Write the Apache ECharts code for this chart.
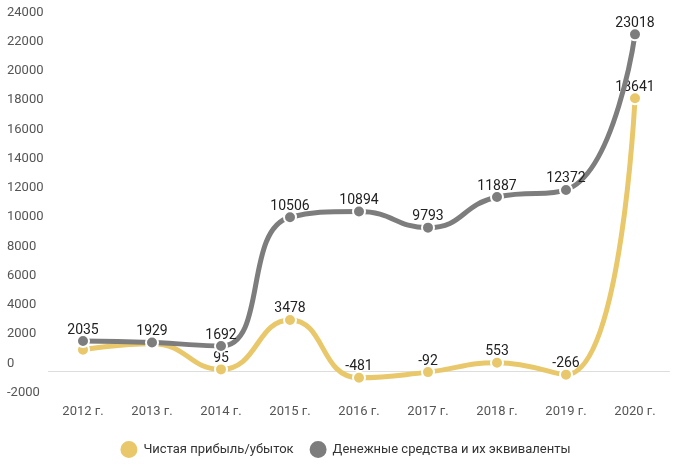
<!DOCTYPE html>
<html><head><meta charset="utf-8">
<script src="https://cdn.jsdelivr.net/npm/echarts@6/dist/echarts.min.js"></script>
<style>html,body{margin:0;padding:0;background:#fff}#c{width:689px;height:465px}</style>
</head><body><div id="c"></div>
<script>
const categories = ['2012 г.','2013 г.','2014 г.','2015 г.','2016 г.','2017 г.','2018 г.','2019 г.','2020 г.'];
const profit = [1436, 1850, 95, 3478, -481, -92, 553, -266, 18641];
const profitLabelShown = [false, false, true, true, true, true, true, true, true];
const cash = [2035, 1929, 1692, 10506, 10894, 9793, 11887, 12372, 23018];
const seriesNames = ['Чистая прибыль/убыток', 'Денежные средства и их эквиваленты'];
const yTicks = {min: -2000, max: 24000, interval: 2000};

const chart = echarts.init(document.getElementById('c'));
const lbl = {show: true, position: 'top', distance: -3, color: '#222', fontSize: 14, fontFamily: 'Roboto'};
chart.setOption({
  animation: false,
  textStyle: {fontFamily: 'Roboto'},
  grid: {left: 48.5, right: 19.5, top: 20, bottom: 65},
  legend: {
    bottom: 0, left: 'center', itemWidth: 19, itemHeight: 19, itemGap: 14,
    icon: 'circle',
    textStyle: {color: '#333', fontSize: 13, fontFamily: 'Roboto'},
    data: seriesNames
  },
  xAxis: {
    type: 'category', data: categories, boundaryGap: true,
    axisLine: {show: true, onZero: true, lineStyle: {color: '#ddd', width: 1}},
    axisTick: {show: false},
    axisLabel: {color: '#555', fontSize: 13, margin: 5, verticalAlign: 'top'}
  },
  yAxis: {
    type: 'value', min: yTicks.min, max: yTicks.max, interval: yTicks.interval,
    axisLine: {show: false}, axisTick: {show: false},
    splitLine: {show: false},
    axisLabel: {color: '#555', fontSize: 13, align: 'left', margin: 41.5,
      verticalAlign: 'bottom', padding: [0,0,1,0], formatter: v => String(v)}
  },
  series: [
    {
      name: seriesNames[0], type: 'line', smooth: 0.5, z: 2,
      data: profit.map((v, i) => ({value: v, label: {show: profitLabelShown[i]}})),
      itemStyle: {color: '#E8C86A', borderColor: '#fff', borderWidth: 2},
      lineStyle: {color: '#E8C86A', width: 5},
      symbol: 'circle', symbolSize: 12,
      label: lbl
    },
    {
      name: seriesNames[1], type: 'line', smooth: 0.5, z: 3,
      data: cash,
      itemStyle: {color: '#7d7d7d', borderColor: '#fff', borderWidth: 2},
      lineStyle: {color: '#7d7d7d', width: 5},
      symbol: 'circle', symbolSize: 12,
      label: lbl
    }
  ]
});
</script></body></html>
